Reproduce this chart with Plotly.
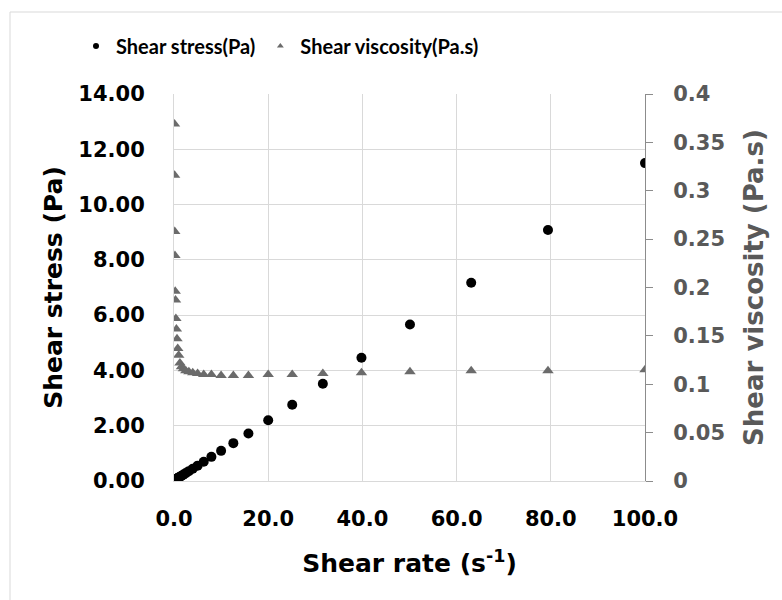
import plotly.graph_objects as go

shear_rate = [0.1, 0.126, 0.158, 0.2, 0.251, 0.316, 0.398, 0.501, 0.631, 0.794,
              1.0, 1.26, 1.58, 2.0, 2.51, 3.16, 3.98, 5.01, 6.31, 7.94,
              10.0, 12.6, 15.8, 20.0, 25.1, 31.6, 39.8, 50.1, 63.1, 79.4, 100.0]
shear_stress = [0.037, 0.040, 0.041, 0.047, 0.049, 0.059, 0.067, 0.079, 0.093, 0.109,
                0.130, 0.154, 0.186, 0.232, 0.286, 0.357, 0.446, 0.556, 0.694, 0.873,
                1.09, 1.37, 1.72, 2.20, 2.76, 3.52, 4.46, 5.66, 7.17, 9.08, 11.50]
shear_viscosity = [0.369, 0.316, 0.258, 0.233, 0.196, 0.187, 0.168, 0.157, 0.147, 0.137,
                   0.130, 0.122, 0.118, 0.116, 0.114, 0.113, 0.112, 0.111, 0.110, 0.110,
                   0.109, 0.109, 0.109, 0.110, 0.110, 0.111, 0.112, 0.113, 0.114, 0.114, 0.115]

FONT = "DejaVu Sans"
LEGFONT = "Lato, DejaVu Sans Condensed, sans-serif"
GRID = "#d9d9d9"
GREY = "#595959"
TRI = "#6b6b6b"

fig = go.Figure()
fig.add_trace(go.Scatter(x=shear_rate, y=shear_stress, mode="markers", yaxis="y",
                         marker=dict(symbol="circle", size=10, color="black"),
                         showlegend=False))
fig.add_trace(go.Scatter(x=shear_rate, y=shear_viscosity, mode="markers", yaxis="y2",
                         marker=dict(symbol="triangle-up", size=10, color=TRI),
                         showlegend=False))
# legend-only entries with small symbols
fig.add_trace(go.Scatter(x=[None], y=[None], mode="markers", name="Shear stress(Pa)",
                         marker=dict(symbol="circle", size=6, color="black")))
fig.add_trace(go.Scatter(x=[None], y=[None], mode="markers", name="Shear viscosity(Pa.s)",
                         marker=dict(symbol="triangle-up", size=6, color=TRI)))

L, R, T, B = 174, 645, 94, 481
W, H = 782, 600
pw, ph = R - L, B - T

def px(xp):
    return (xp - L) / pw

def py(yp):
    return (B - yp) / ph

fig.update_layout(
    width=W, height=H,
    margin=dict(l=L, r=W - R, t=T, b=H - B, pad=0),
    paper_bgcolor="white", plot_bgcolor="white",
    font=dict(family=FONT, color="black"),
    xaxis=dict(range=[0, 100], dtick=20, tick0=0, tickformat=".1f",
               showgrid=True, gridcolor=GRID, gridwidth=1,
               showline=True, linecolor=GRID, linewidth=1, zeroline=False,
               ticks="", ticklabelstandoff=19,
               tickfont=dict(family=FONT, size=21, color="black", weight="bold"),
               title=dict(text="Shear rate (s<sup>-1</sup>)", standoff=24,
                          font=dict(family=FONT, size=25, color="black", weight="bold"))),
    yaxis=dict(range=[0, 14], dtick=2, tick0=0, tickformat=".2f",
               showgrid=True, gridcolor=GRID, gridwidth=1,
               showline=True, linecolor=GRID, linewidth=1, zeroline=False,
               ticks="", ticklabelstandoff=24,
               tickfont=dict(family=FONT, size=21, color="black", weight="bold"),
               title=dict(text="Shear stress (Pa)", standoff=8,
                          font=dict(family=FONT, size=25, color="black", weight="bold"))),
    yaxis2=dict(range=[0, 0.4], dtick=0.05, tick0=0, overlaying="y", side="right",
                showgrid=False, zeroline=False,
                showline=True, linecolor="#8c8c8c", linewidth=1,
                ticks="outside", ticklen=7, tickcolor="#8c8c8c", ticklabelstandoff=16,
                tickfont=dict(family=FONT, size=21, color=GREY, weight="bold"),
                title=dict(text="Shear viscosity (Pa.s)", standoff=20,
                           font=dict(family=FONT, size=26, color=GREY, weight="bold"))),
    legend=dict(orientation="h", x=px(76), xanchor="left", y=py(46), yanchor="middle",
                font=dict(family=LEGFONT, size=20, color="black", weight="bold"),
                bgcolor="rgba(0,0,0,0)", itemsizing="trace"),
    shapes=[dict(type="rect", xref="paper", yref="paper",
                 x0=px(10), x1=px(790), y0=py(610), y1=py(12),
                 line=dict(color=GRID, width=1), layer="below")],
)

fig.write_html("out.html")
